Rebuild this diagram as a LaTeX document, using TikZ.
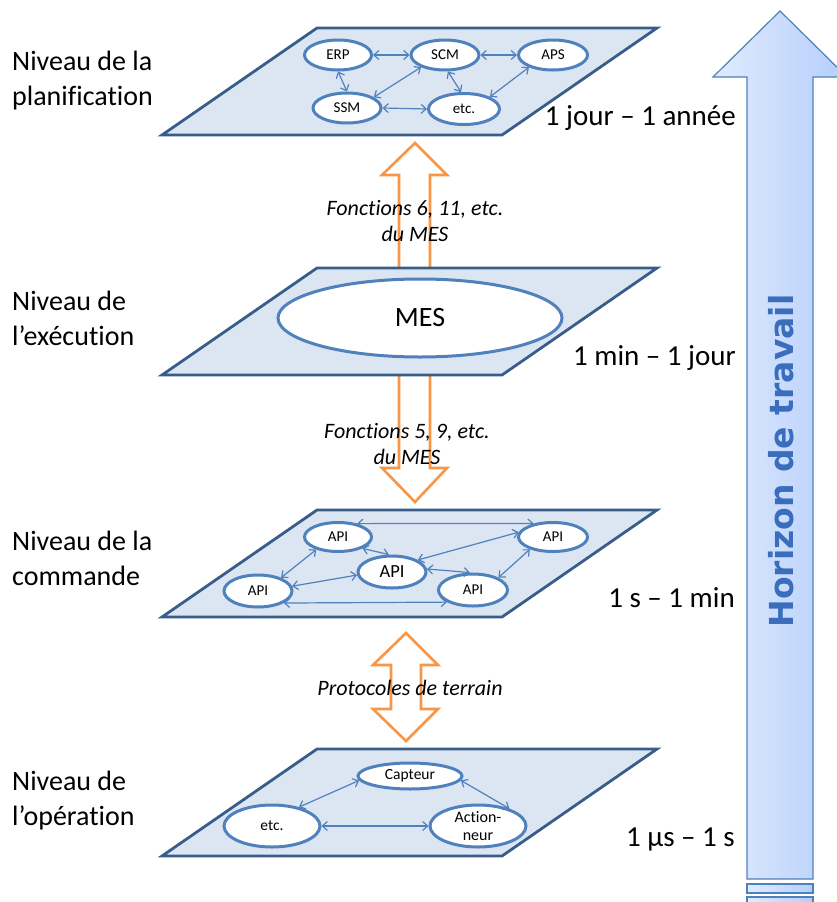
\documentclass[tikz,border=0pt]{standalone}
\usepackage{fontspec}
\setmainfont[Ligatures=NoCommon]{Carlito}
\newfontfamily\horizfont{DejaVu Sans}
\usetikzlibrary{shapes.geometric,arrows.meta}

\definecolor{planefill}{RGB}{220,230,242}
\definecolor{planeedge}{RGB}{56,93,138}
\definecolor{nodeedge}{RGB}{79,129,189}
\definecolor{flow}{RGB}{247,150,70}
\definecolor{horizL}{RGB}{224,235,255}
\definecolor{horizR}{RGB}{181,206,250}
\definecolor{horizedge}{RGB}{79,129,189}
\definecolor{horiztext}{RGB}{58,110,188}

\tikzset{
  plane/.style={fill=planefill, draw=planeedge, line width=2.8pt, line join=miter},
  unit/.style={ellipse, draw=nodeedge, fill=white, line width=3pt, inner sep=0pt,
    font=\fontsize{15}{16}\selectfont},
  barb/.tip={Straight Barb[length=5pt,width=9pt]},
  link/.style={draw=nodeedge, line width=1.2pt, barb-barb},
  flowarrow/.style={draw=flow, fill=white, line width=2.6pt, line join=miter},
  level/.style={anchor=base west, align=left, inner sep=0pt,
    font=\fontsize{28}{35}\selectfont},
  span/.style={anchor=base east, inner sep=0pt, font=\fontsize{29}{32}\selectfont},
  flowlabel/.style={align=center, inner sep=0pt, anchor=base,
    font=\itshape\fontsize{22}{26}\selectfont},
}

% one layer of the pyramid, given the y of its far edge
\newcommand\layerplane[1]{%
  \path[plane] (162,#1+107) -- (502,#1+107) -- (657,#1) -- (317,#1) -- cycle;}

\begin{document}
\begin{tikzpicture}[x=1pt,y=-1pt]
\useasboundingbox (0,0) rectangle (837,902);
\clip (0,0) rectangle (837,902);

% ---------- working-horizon arrow ----------
\path[left color=horizL, right color=horizR, draw=horizedge, line width=1.2pt]
  (747,879) -- (747,77) -- (713,77) -- (780,11) -- (847,77) -- (813,77) -- (813,879) -- cycle;
\path[left color=horizL, right color=horizR, draw=horizedge, line width=1.2pt]
  (747,884) rectangle (813,893);
\path[left color=horizL, right color=horizR, draw=horizedge, line width=1.2pt]
  (747,897) rectangle (813,910);
\node[rotate=90, inner sep=0pt, text=horiztext,
  font=\horizfont\bfseries\fontsize{33}{36}\selectfont] (horizon) at (781,461) {Horizon de travail};

% ---------- exchanges between layers ----------
\path[flowarrow] (399,300) -- (399,175) -- (382,175) -- (415,143) -- (447,175)
  -- (430,175) -- (430,300) -- cycle;
\path[flowarrow] (399,350) -- (399,468) -- (382,468) -- (415,502) -- (447,468)
  -- (430,468) -- (430,350) -- cycle;
\path[flowarrow] (391,665) -- (373,665) -- (406,633) -- (438,665) -- (421,665)
  -- (421,709) -- (438,709) -- (406,741) -- (373,709) -- (391,709) -- cycle;

% ---------- layers ----------
\layerplane{28}
\layerplane{268}
\layerplane{510}
\layerplane{749}

% planning layer
\node[unit, minimum width=67, minimum height=30] (erp) at (338,55) {ERP};
\node[unit, minimum width=68, minimum height=30] (scm) at (445,55) {SCM};
\node[unit, minimum width=69, minimum height=30] (aps) at (553,55) {APS};
\node[unit, minimum width=68, minimum height=30] (ssm) at (347,108) {SSM};
\node[unit, minimum width=71, minimum height=31] (etc1) at (464,109) {etc.};
\draw[link] (erp.east) -- (scm.west);
\draw[link] (scm.east) -- (aps.west);
\draw[link] (ssm.east) -- (etc1.west);
\draw[link] (erp.south) -- (ssm.north);
\draw[link] (ssm.22) -- (scm.207);
\draw[link] (scm.280) -- (etc1.100);
\draw[link] (etc1.25) -- (aps.207);

% execution layer
\node[unit, minimum width=284, minimum height=78, font=\fontsize{28}{30}\selectfont]
  (mes) at (420,318) {MES};

% control layer
\node[unit, minimum width=67, minimum height=29] (apiTL) at (338,537) {API};
\node[unit, minimum width=69, minimum height=29] (apiTR) at (553,537) {API};
\node[unit, minimum width=68, minimum height=32, font=\fontsize{18.5}{20}\selectfont]
  (apiC) at (392,572) {API};
\node[unit, minimum width=68, minimum height=32] (apiL) at (258,591) {API};
\node[unit, minimum width=69, minimum height=32] (apiBR) at (473,590) {API};
\draw[link] (apiTL.35) -- (apiTR.145);
\draw[link] (apiTL.335) -- (apiC.100);
\draw[link] (apiTL.210) -- (apiL.30);
\draw[link] (apiL.8) -- (apiC.185);
\draw[link] (apiC.25) -- (apiTR.172);
\draw[link] (apiC.5) -- (apiBR.100);
\draw[link] (apiTR.208) -- (apiBR.26);
\draw[link] (apiL.335) -- (apiBR.205);

% operation layer
\node[unit, minimum width=104, minimum height=26, font=\fontsize{15.5}{16}\selectfont]
  (capteur) at (410,776) {Capteur};
\node[unit, minimum width=96, minimum height=42, font=\fontsize{15.5}{16}\selectfont]
  (etc4) at (272,826) {etc.};
\node[unit, minimum width=96, minimum height=42, align=center,
  font=\fontsize{16}{18}\selectfont] (action) at (478,826) {Action-\\neur};
\draw[link] (etc4.35) -- (capteur.185);
\draw[link] (capteur.355) -- (action.29);
\draw[link] (etc4.east) -- (action.west);

% ---------- labels (base = last line) ----------
\node[level] (lvl1) at (12,105) {Niveau de la\\planification};
\node[level] (lvl2) at (12,345) {Niveau de\\l’exécution};
\node[level] (lvl3) at (12,585) {Niveau de la\\commande};
\node[level] (lvl4) at (12,825) {Niveau de\\l’opération};

\node[span] (t1) at (736,125) {1 jour – 1 année};
\node[span] (t2) at (736,365) {1 min – 1 jour};
\node[span] (t3) at (735,607) {1 s – 1 min};
\node[span] (t4) at (735,846) {1 µs – 1 s};

\node[flowlabel] (f1) at (415,241) {Fonctions 6, 11, etc.\\du MES};
\node[flowlabel] (f2) at (407,464) {Fonctions 5, 9, etc.\\du MES};
\node[flowlabel] (f3) at (410,695) {Protocoles de terrain};
\end{tikzpicture}
\end{document}
